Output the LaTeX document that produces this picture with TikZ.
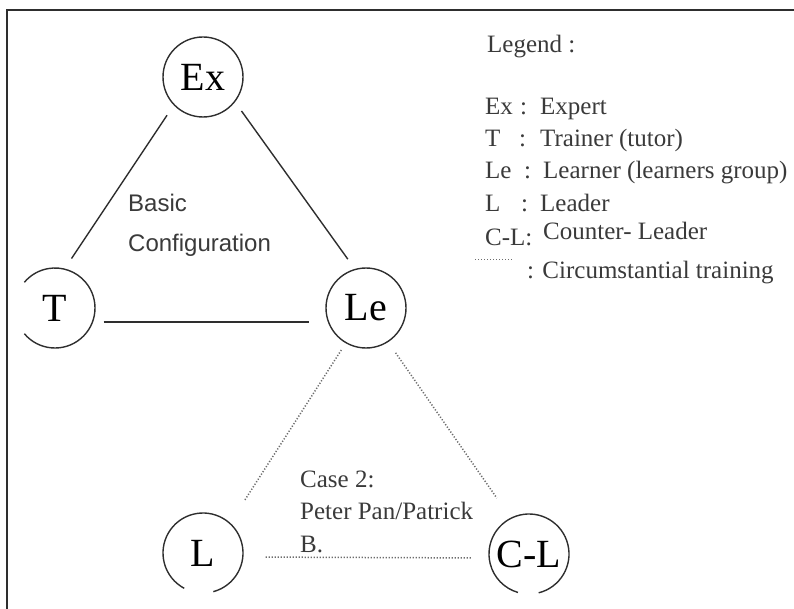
\documentclass[tikz,border=0pt]{standalone}
\usepackage{fontspec}
\setmainfont{Liberation Serif}
\newfontfamily\sansfont{Liberation Sans}
\usepackage{tikz}
\usetikzlibrary{calc}
\definecolor{ink}{HTML}{2E2E2E}
\definecolor{legendgray}{HTML}{3A3A3A}
\tikzset{
  role/.style={
    circle,
    draw=ink,
    line width=1.4pt,
    minimum size=80pt,
    inner sep=0pt,
    font=\fontsize{40}{40}\selectfont
  },
  open role/.style={
    role,
    draw=none
  },
  ring/.style={
    draw=ink,
    line width=1.4pt
  },
  link/.style={
    draw=ink,
    line width=1.4pt
  },
  training/.style={
    draw=gray!85!black,
    line width=1.5pt,
    dash pattern=on 1.2pt off 1.8pt
  },
  legend text/.style={
    anchor=base west,
    inner sep=0pt,
    color=legendgray,
    font=\fontsize{25}{30}\selectfont
  }
}

\begin{document}
\begin{tikzpicture}[x=1pt, y=-1pt]
    \useasboundingbox (0,0) rectangle (794,609);

    % frame (only top and left edges are visible)
    \draw[ink, line width=2pt] (7,609) -- (7,10) -- (794,10);

    % basic configuration
    \node[role] (ex) at (203,77) {Ex};
    \node[open role] (tr) at (55,308) {T};
    \node[role] (le) at (366,308) {Le};

    % T circle is broken on its left side
    \draw[ring] ([shift={(-140:40pt)}]tr.center) arc[start angle=-140, end angle=140, radius=40pt];

    \draw[link, shorten <=12pt, shorten >=12pt] (ex.224) -- (tr.76);
    \draw[link, shorten <=11pt, shorten >=12pt] (ex.-38) -- (le.106);
    \draw[link, shorten <=8pt, shorten >=16pt] ([yshift=-14pt]tr.east) -- ([yshift=-14pt]le.west);

    % base anchor of a multi-line node sits on its last line
    \node[anchor=base west, inner sep=0pt, align=left, color=legendgray,
          font=\sansfont\fontsize{24}{40}\selectfont] (basic) at (128,252)
          {Basic\\Configuration};

    % case 2: leader and counter-leader
    \node[open role] (ld) at (203,553) {L};
    \node[open role] (cl) at (529,554) {C-L};

    % both circles are broken at the bottom
    \draw[ring] ([shift={(-75:40pt)}]ld.center) arc[start angle=-75, end angle=242, radius=40pt];
    \draw[ring] ([shift={(-76:40pt)}]cl.center) arc[start angle=-76, end angle=254, radius=40pt];

    \draw[training, shorten <=8pt, shorten >=27pt] (le.240) -- (ld.48);
    \draw[training, shorten <=13pt, shorten >=24pt] (le.-57) -- (cl.117);
    \draw[training, shorten <=22pt, shorten >=17pt] ([yshift=-4pt]ld.east) -- ([yshift=-4pt]cl.west);

    \node[legend text, align=left, font=\fontsize{25}{32.5}\selectfont] (case) at (300,552)
          {Case 2:\\Peter Pan/Patrick\\B.};

    % legend
    \node[legend text] (legend) at (487,53) {Legend :};

    \node[legend text] (kex) at (485,115) {Ex};
    \node[legend text] at (520,115) {:};
    \node[legend text] (vex) at (540,115) {Expert};

    \node[legend text] (ktr) at (485,147) {T};
    \node[legend text] at (519,147) {:};
    \node[legend text] (vtr) at (540,147) {Trainer (tutor)};

    \node[legend text] (kle) at (485,179) {Le};
    \node[legend text] at (524,179) {:};
    \node[legend text] (vle) at (543,179) {Learner (learners group)};

    \node[legend text] (kld) at (485,212) {L};
    \node[legend text] at (521,212) {:};
    \node[legend text] (vld) at (540,212) {Leader};

    \node[legend text] (kcl) at (485,246) {C-L:};
    \node[legend text] (vcl) at (543,240) {Counter- Leader};

    \coordinate (sample a) at (475,260);
    \coordinate (sample b) at (512,260);
    \draw[training, line width=1pt] (sample a) -- (sample b);
    \node[legend text] (vtrain) at (527,279) {: Circumstantial training};

\end{tikzpicture}
\end{document}
